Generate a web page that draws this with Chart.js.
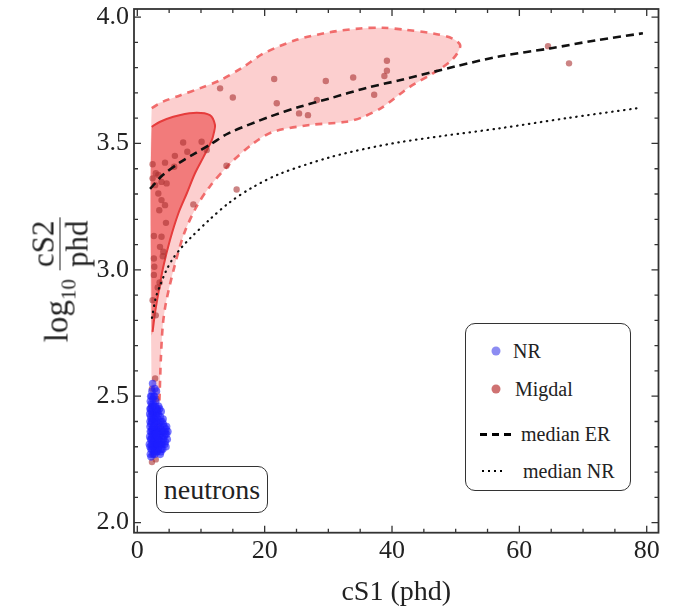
<!DOCTYPE html>
<html><head><meta charset="utf-8">
<script src="https://cdn.jsdelivr.net/npm/chart.js@4.4.1/dist/chart.umd.min.js"></script>
<style>
html,body{margin:0;padding:0;background:#fff;}
#wrap{position:relative;width:677px;height:612px;font-family:"Liberation Serif","Times New Roman",serif;color:#222;overflow:hidden;}
#wrap div{font-family:"Liberation Serif","Times New Roman",serif;}
canvas{position:absolute;left:0;top:0;}
.abs{position:absolute;white-space:nowrap;line-height:1;}
.ytitle{left:60px;top:280px;transform:translate(-50%,-50%) rotate(-90deg);font-size:33px;display:flex;align-items:center;}
.ytitle sub{font-size:21px;vertical-align:-8px;}
.frac{display:inline-flex;flex-direction:column;align-items:center;margin-left:9px;font-size:31px;}
.frac .num{padding:0 3px 1px;border-bottom:1.5px solid #222;}
.frac .den{padding:1px 3px 0;}
.box{position:absolute;border:1.6px solid #333;border-radius:10px;background:#fff;box-sizing:border-box;}
.dot{position:absolute;width:9px;height:9px;border-radius:50%;transform:translate(-50%,-50%);}
.lt{position:absolute;font-size:20px;line-height:1;transform:translateY(-50%);white-space:nowrap;}
</style></head>
<body>
<div id="wrap">
<canvas id="c" width="677" height="612"></canvas>
<div class="abs ytitle"><span>log<sub>10</sub></span><span class="frac"><span class="num">cS2</span><span class="den">phd</span></span></div>
<div class="box" style="left:156px;top:466px;width:112px;height:47px;"></div>
<div class="abs" style="left:212px;top:490px;transform:translate(-50%,-50%);font-size:28px;">neutrons</div>
<div class="box" style="left:465px;top:323px;width:166px;height:168px;"></div>
<div class="dot" style="left:496px;top:351px;background:#8c8cf2;"></div>
<div class="lt" style="left:513px;top:351px;">NR</div>
<div class="dot" style="left:496px;top:389px;background:#cf7272;"></div>
<div class="lt" style="left:515px;top:389px;">Migdal</div>
<div style="position:absolute;left:480px;top:433px;width:31px;height:2.6px;background:repeating-linear-gradient(90deg,#000 0 7px,transparent 7px 12px);"></div>
<div class="lt" style="left:521px;top:434px;">median ER</div>
<div style="position:absolute;left:482px;top:470px;width:22px;height:2px;background:repeating-linear-gradient(90deg,#000 0 2px,transparent 2px 6px);"></div>
<div class="lt" style="left:523px;top:471px;">median NR</div>
</div>
<script>
// ---- axis ticks ----
const xTicks = [0, 20, 40, 60, 80];
const xMinorTicks = [5, 10, 15, 25, 30, 35, 45, 50, 55, 65, 70, 75];
const yTicks = [2.0, 2.5, 3.0, 3.5, 4.0];
const yMinorTicks = [2.1, 2.2, 2.3, 2.4, 2.6, 2.7, 2.8, 2.9, 3.1, 3.2, 3.3, 3.4, 3.6, 3.7, 3.8, 3.9];

// ---- median ER (dashed) ----
const medianERx = [2.0, 4.0, 6.7, 9.0, 11.4, 14.3, 20.8, 25.5, 30.2, 36.0, 41.2, 50.0, 57.0, 64.8, 72.0, 79.4];
const medianERy = [3.32, 3.375, 3.425, 3.46, 3.495, 3.54, 3.606, 3.645, 3.678, 3.72, 3.75, 3.805, 3.845, 3.876, 3.908, 3.936];

// ---- median NR (dotted) ----
const medianNRx = [2.3, 2.9, 3.6, 4.5, 5.6, 7.0, 8.3, 11.4, 14.4, 18.0, 22.4, 30.2, 36.0, 41.2, 48.0, 56.9, 67.4, 78.7];
const medianNRy = [2.81, 2.89, 2.94, 2.995, 3.045, 3.09, 3.125, 3.2, 3.265, 3.325, 3.38, 3.445, 3.48, 3.505, 3.53, 3.56, 3.6, 3.64];

// ---- Migdal outer contour (light, dashed) ----
const outerX = [2.26, 2.26, 4.0, 6.7, 10.0, 13.0, 16.5, 19.8, 25.0, 30.2, 35.0, 38.5, 42.0, 46.5, 49.5, 50.7, 50.2, 49.1, 46.5, 42.8, 38.6, 35.5, 32.9, 27.1, 21.3, 18.2, 14.6, 11.4, 9.3, 7.3, 5.7, 4.5, 4.0, 3.7, 3.5, 3.4];
const outerY = [2.42, 3.64, 3.665, 3.69, 3.72, 3.75, 3.80, 3.856, 3.91, 3.94, 3.955, 3.958, 3.95, 3.935, 3.915, 3.889, 3.855, 3.823, 3.778, 3.724, 3.645, 3.605, 3.586, 3.573, 3.546, 3.50, 3.421, 3.33, 3.25, 3.14, 3.0, 2.87, 2.78, 2.65, 2.5, 2.42];

// ---- Migdal inner contour (dark, solid) ----
const innerX = [2.26, 2.26, 3.5, 5.65, 8.8, 11.4, 12.2, 12.0, 11.7, 10.4, 9.06, 7.76, 6.44, 5.13, 4.08, 3.3, 2.78, 2.4];
const innerY = [2.74, 3.566, 3.585, 3.606, 3.621, 3.612, 3.573, 3.54, 3.513, 3.447, 3.382, 3.302, 3.223, 3.118, 3.012, 2.907, 2.83, 2.755];

// ---- Migdal events ----
const migdalX = [13.0, 15.0, 21.5, 21.9, 25.4, 26.8, 28.2, 29.6, 33.9, 37.2, 38.8, 39.2, 39.2, 14.0, 15.6, 8.8, 7.2, 10.1, 10.9, 7.85, 5.9, 4.35, 5.8, 2.4, 2.9, 3.3, 3.8, 2.4, 4.6, 2.8, 3.3, 3.8, 4.35, 3.45, 4.5, 2.6, 3.8, 3.56, 2.6, 4.0, 4.08, 2.67, 64.5, 67.8, 2.6, 3.2, 2.4, 2.9, 3.5, 2.8, 2.3, 3.0, 2.2, 2.6, 3.1, 2.5, 2.9, 2.3];
const migdalY = [3.718, 3.682, 3.755, 3.659, 3.619, 3.612, 3.672, 3.747, 3.761, 3.693, 3.767, 3.788, 3.827, 3.412, 3.318, 3.259, 3.504, 3.507, 3.474, 3.467, 3.451, 3.424, 3.408, 3.418, 3.382, 3.375, 3.348, 3.362, 3.342, 3.335, 3.302, 3.276, 3.256, 3.236, 3.186, 3.134, 3.131, 3.091, 3.045, 3.054, 3.072, 3.012, 3.885, 3.817, 2.98, 2.93, 2.88, 2.82, 2.95, 2.57, 2.53, 2.49, 2.46, 2.43, 2.38, 2.27, 2.25, 2.24];

// ---- NR events (neutron calibration) ----
const nrX = [2.0, 2.1, 2.2, 2.3, 2.1, 2.4, 2.6, 2.9, 2.2, 3.1, 3.3, 2.8, 2.5, 2.7, 2.4, 2.9, 3.2, 3.5, 3.8, 4.1, 4.4, 4.7, 4.5, 4.2, 3.9, 3.6, 3.4, 3.1, 2.0, 1.95, 2.05, 2.3, 2.6, 3.0, 3.3, 3.7, 4.0, 2.2, 2.5, 2.8, 3.0, 2.15, 2.35, 2.55, 2.75, 3.45, 3.25, 2.45, 2.7, 3.0, 2.3, 2.1, 4.6, 4.3, 3.9, 2.0, 1.9, 2.25, 2.65, 2.95, 3.55, 3.75, 2.45, 2.85, 3.15, 3.6, 2.05, 2.35, 3.35, 2.75, 2.4, 4.8, 4.05, 2.15, 2.55, 3.05, 3.85, 2.3, 2.65, 3.4,
  2.0, 2.1, 2.2, 2.3, 2.4, 2.5, 2.6, 2.7, 2.8, 2.9, 3.0, 3.1, 3.2, 3.3, 3.4, 3.5, 3.6, 3.7, 3.8, 3.9, 4.0, 4.2, 4.4, 4.6, 2.05, 2.25, 2.5, 2.85, 3.2, 3.5, 2.15, 2.45, 2.75, 3.0, 3.3, 3.65, 4.1, 4.5, 2.35, 2.6, 2.95, 2.2, 1.95, 2.4, 3.7, 4.3, 2.6, 2.9, 3.15, 2.55];
const nrY = [2.30, 2.33, 2.36, 2.40, 2.42, 2.44, 2.46, 2.48, 2.47, 2.45, 2.43, 2.41, 2.38, 2.35, 2.32, 2.30, 2.32, 2.34, 2.36, 2.33, 2.35, 2.33, 2.30, 2.38, 2.40, 2.42, 2.39, 2.37, 2.38, 2.34, 2.27, 2.29, 2.28, 2.34, 2.29, 2.31, 2.29, 2.44, 2.43, 2.44, 2.40, 2.39, 2.35, 2.33, 2.31, 2.36, 2.41, 2.49, 2.50, 2.52, 2.52, 2.50, 2.38, 2.31, 2.34, 2.45, 2.31, 2.31, 2.39, 2.37, 2.38, 2.44, 2.41, 2.33, 2.28, 2.27, 2.36, 2.46, 2.46, 2.53, 2.55, 2.36, 2.41, 2.29, 2.30, 2.43, 2.32, 2.37, 2.36, 2.33,
  2.40, 2.45, 2.33, 2.34, 2.37, 2.35, 2.32, 2.29, 2.36, 2.40, 2.31, 2.34, 2.36, 2.38, 2.30, 2.31, 2.35, 2.37, 2.29, 2.31, 2.36, 2.34, 2.32, 2.35, 2.48, 2.50, 2.47, 2.46, 2.44, 2.45, 2.26, 2.27, 2.27, 2.28, 2.33, 2.40, 2.39, 2.37, 2.43, 2.41, 2.42, 2.41, 2.43, 2.30, 2.28, 2.36, 2.50, 2.35, 2.31, 2.38];

const pts = (xs, ys) => xs.map((x, i) => ({x, y: ys[i]}));

const frameTicks = {
  id: 'frameTicks',
  afterDatasetsDraw(chart) {
    const {ctx, chartArea: a, scales: {x, y}} = chart;
    ctx.save();
    ctx.strokeStyle = '#333';
    ctx.lineWidth = 1.3;
    ctx.beginPath();
    const tx = (v, len) => { const p = x.getPixelForValue(v); ctx.moveTo(p, a.bottom); ctx.lineTo(p, a.bottom - len); ctx.moveTo(p, a.top); ctx.lineTo(p, a.top + len); };
    const ty = (v, len) => { const p = y.getPixelForValue(v); ctx.moveTo(a.left, p); ctx.lineTo(a.left + len, p); ctx.moveTo(a.right, p); ctx.lineTo(a.right - len, p); };
    xTicks.forEach(v => tx(v, 7));
    xMinorTicks.forEach(v => tx(v, 4));
    yTicks.forEach(v => ty(v, 7));
    yMinorTicks.forEach(v => ty(v, 4));
    ctx.stroke();
    ctx.lineWidth = 1.8;
    ctx.strokeRect(a.left, a.top, a.right - a.left, a.bottom - a.top);
    ctx.restore();
  }
};

const serif = "'Liberation Serif', 'Times New Roman', serif";
const tickFont = {family: serif, size: 26};

new Chart(document.getElementById('c'), {
  type: 'scatter',
  data: {
    datasets: [
      {label: 'outer', data: pts(outerX, outerY), showLine: true, fill: 'shape', backgroundColor: 'rgba(250,160,160,0.5)', borderWidth: 0, pointRadius: 0, tension: 0.3, order: 10},
      {label: 'outerBorder', data: pts(outerX, outerY).slice(1), showLine: true, fill: false, borderColor: 'rgba(240,95,95,0.9)', borderWidth: 2.6, borderDash: [7, 6], pointRadius: 0, tension: 0.3, order: 9},
      {label: 'inner', data: pts(innerX, innerY), showLine: true, fill: 'shape', backgroundColor: 'rgba(235,55,55,0.55)', borderWidth: 0, pointRadius: 0, tension: 0.3, order: 8},
      {label: 'innerBorder', data: pts(innerX, innerY).slice(1), showLine: true, fill: false, borderColor: '#e63c3c', borderWidth: 2, pointRadius: 0, tension: 0.3, order: 7},
      {label: 'Migdal', data: pts(migdalX, migdalY), backgroundColor: 'rgba(170,50,50,0.6)', borderWidth: 0, pointRadius: 3.2, order: 6},
      {label: 'NR', data: pts(nrX, nrY), backgroundColor: 'rgba(30,30,255,0.6)', borderWidth: 0, pointRadius: 3.8, order: 5},
      {label: 'median NR', data: pts(medianNRx, medianNRy), showLine: true, fill: false, borderColor: '#111', borderWidth: 2.2, borderDash: [0.5, 5.5], borderCapStyle: 'round', pointRadius: 0, tension: 0.3, order: 4},
      {label: 'median ER', data: pts(medianERx, medianERy), showLine: true, fill: false, borderColor: '#111', borderWidth: 2.6, borderDash: [8, 5], pointRadius: 0, tension: 0.3, order: 3}
    ]
  },
  options: {
    responsive: false,
    animation: false,
    layout: {padding: {top: 9, right: 18.5, left: 0, bottom: 0}},
    plugins: {legend: {display: false}, tooltip: {enabled: false}},
    scales: {
      x: {
        type: 'linear', min: -0.52, max: 81.85,
        afterBuildTicks: s => { s.ticks = xTicks.map(v => ({value: v})); },
        afterFit: s => { s.height = 79.3; s.paddingLeft = 0; s.paddingRight = 0; },
        ticks: {font: tickFont, color: '#222', padding: 3, maxRotation: 0},
        grid: {display: false, drawTicks: false},
        border: {display: false},
        title: {display: true, text: 'cS1 (phd)', font: {family: serif, size: 28}, color: '#222', padding: {top: 0, bottom: 3}}
      },
      y: {
        type: 'linear', min: 1.96, max: 4.032,
        afterBuildTicks: s => { s.ticks = yTicks.map(v => ({value: v})); },
        afterFit: s => { s.width = 134; s.paddingTop = 0; s.paddingBottom = 0; },
        ticks: {font: tickFont, color: '#222', padding: 5, callback: v => v.toFixed(1)},
        grid: {display: false, drawTicks: false},
        border: {display: false}
      }
    }
  },
  plugins: [frameTicks]
});
</script>
</body></html>
